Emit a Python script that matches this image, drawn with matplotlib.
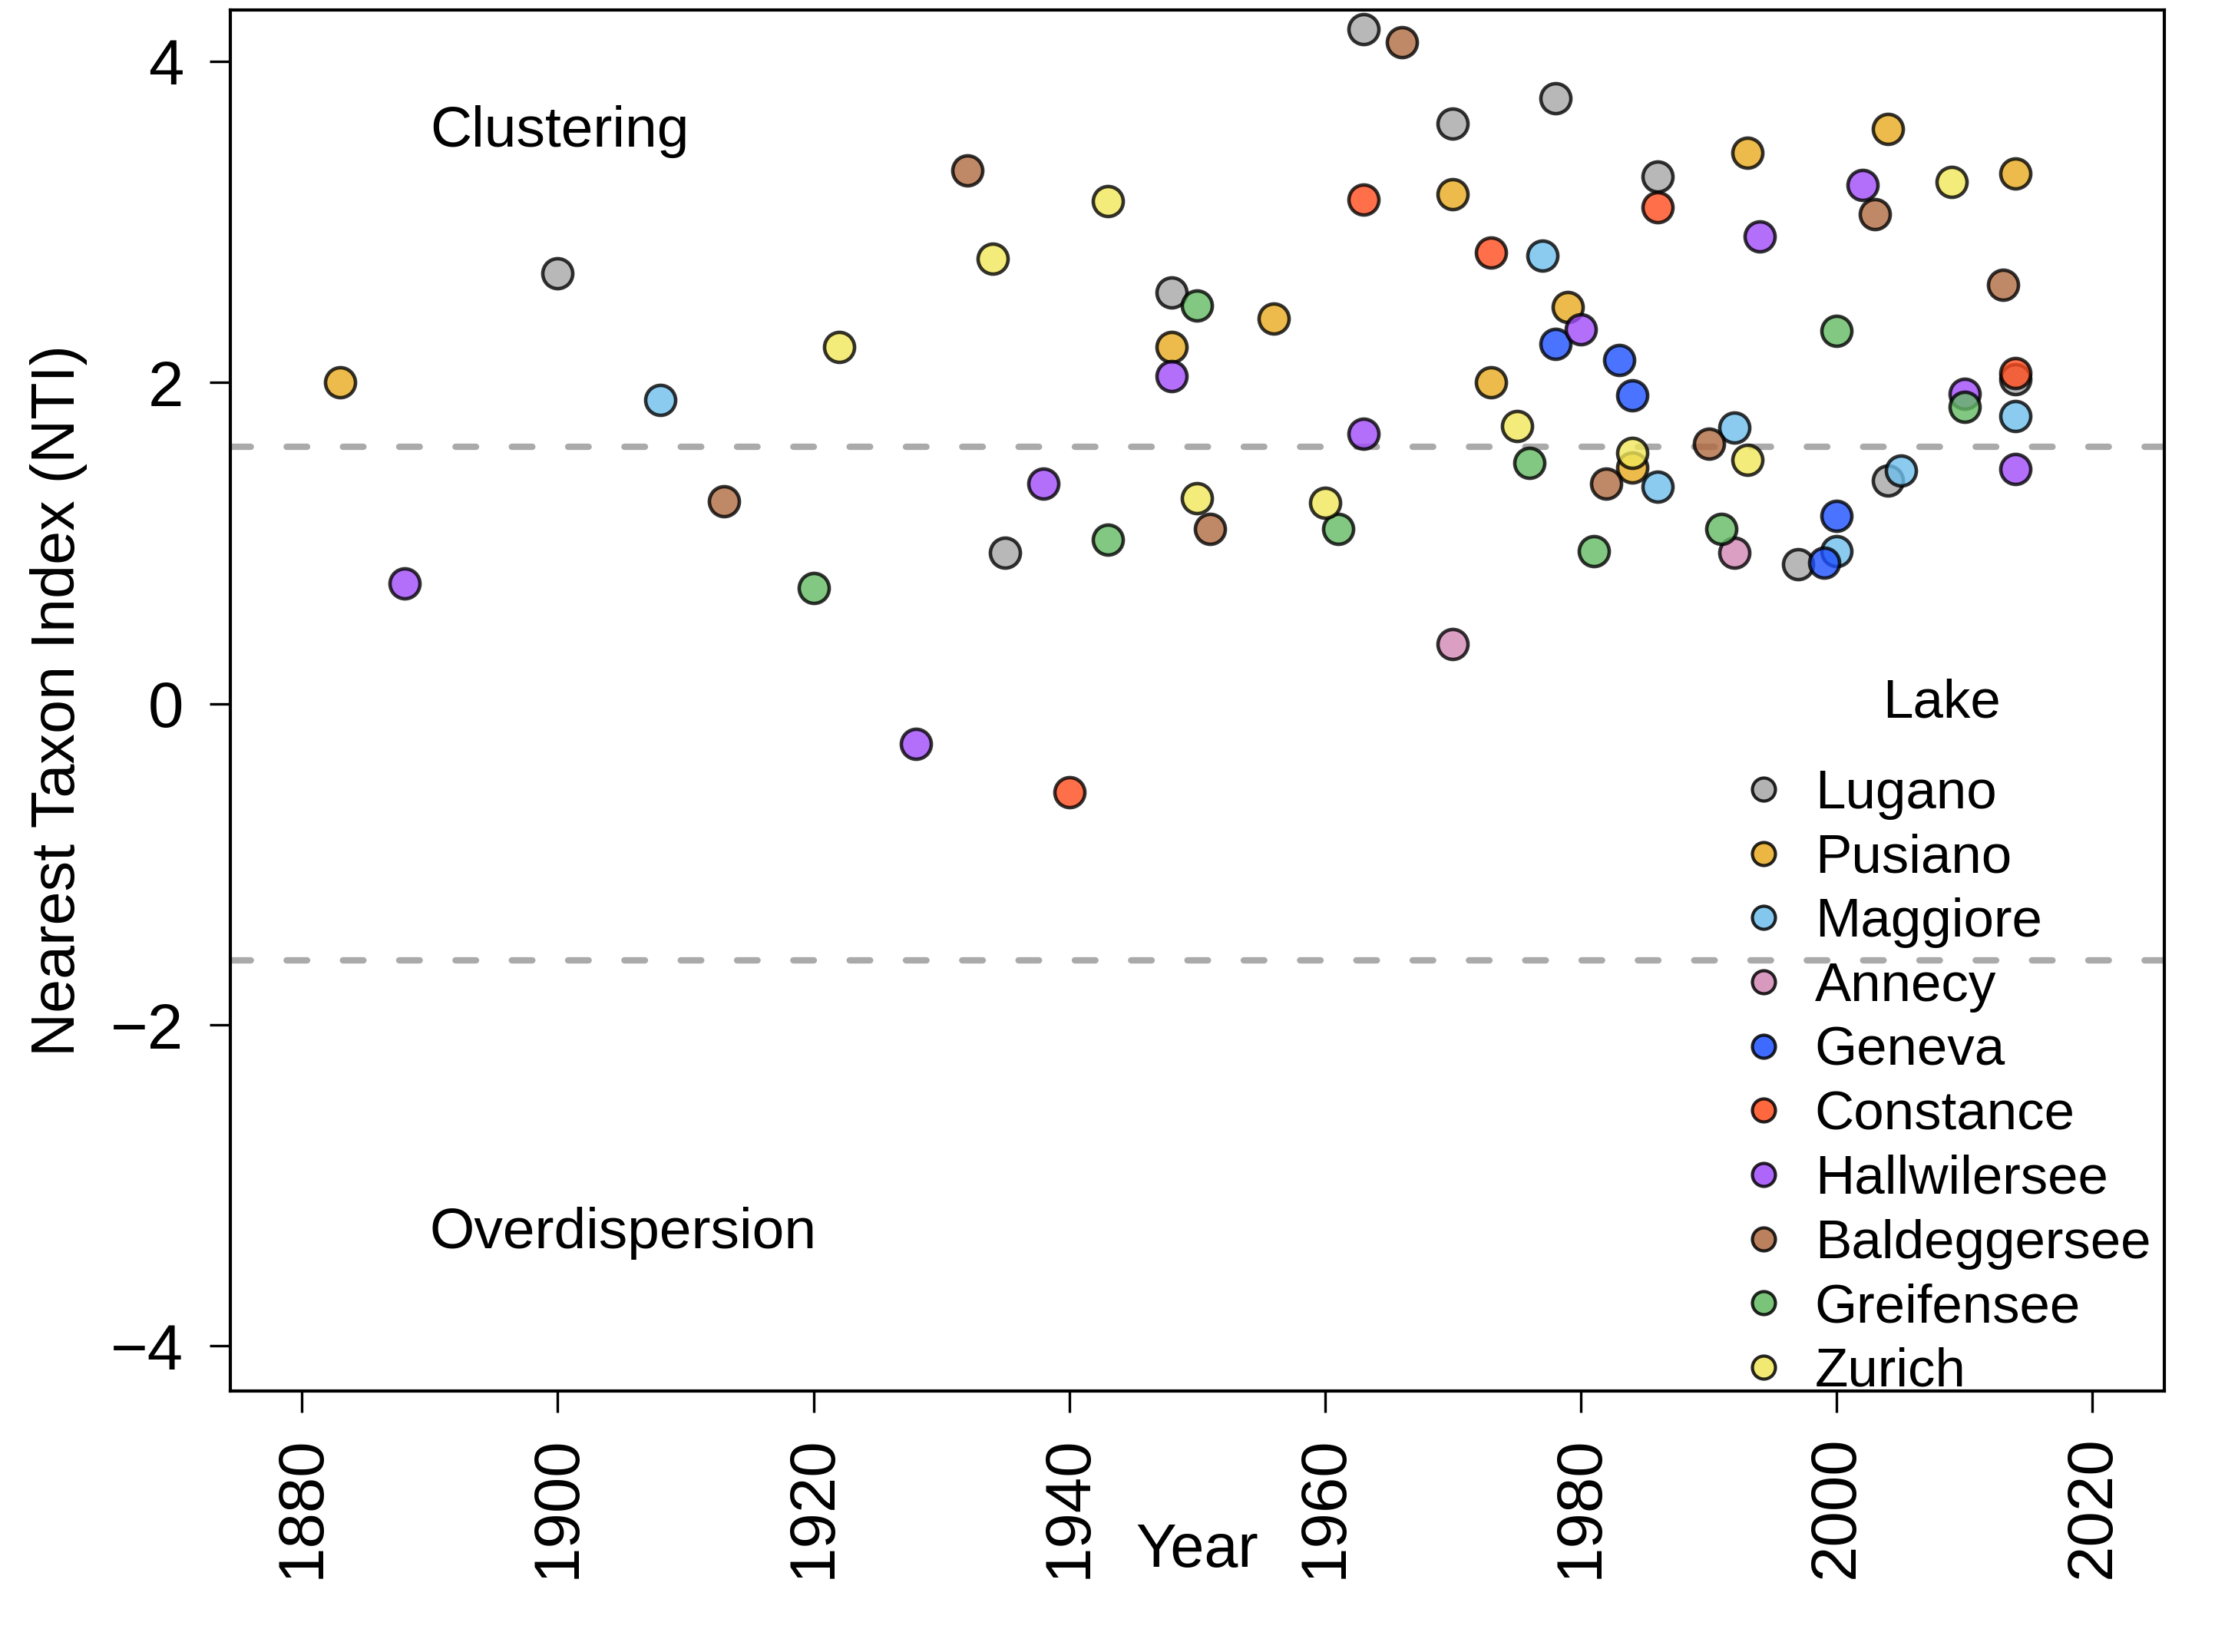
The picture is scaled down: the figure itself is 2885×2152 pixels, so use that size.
import matplotlib
matplotlib.use("Agg")
import matplotlib.pyplot as plt
from matplotlib.lines import Line2D

plt.rcParams['font.family'] = ['Liberation Sans', 'DejaVu Sans']

lakes = ["Lugano", "Pusiano", "Maggiore", "Annecy", "Geneva", "Constance",
         "Hallwilersee", "Baldeggersee", "Greifensee", "Zurich"]

# fill colours (drawn with some transparency, like the original R plot)
lake_colors = ["#a6a6a6", "#e8aa1f", "#6ebeec", "#d187b3", "#1d50ff",
               "#ff4c1d", "#a04af9", "#b06a40", "#63ba63", "#f0e659"]

years = {
    "Lugano":       [1900, 1935, 1948, 1963, 1970, 1978, 1986, 1997, 2004, 2014],
    "Pusiano":      [1883, 1948, 1956, 1970, 1973, 1979, 1984, 1993, 2004, 2014],
    "Maggiore":     [1908, 1977, 1986, 1992, 2000, 2005, 2014],
    "Annecy":       [1970, 1992],
    "Geneva":       [1978, 1983, 1984, 1999, 2000],
    "Constance":    [1940, 1963, 1973, 1986, 2014],
    "Hallwilersee": [1888, 1928, 1938, 1948, 1963, 1980, 1994, 2002, 2010, 2014],
    "Baldeggersee": [1913, 1932, 1951, 1966, 1982, 1990, 2003, 2013],
    "Greifensee":   [1920, 1943, 1950, 1961, 1976, 1981, 1991, 2000, 2010],
    "Zurich":       [1922, 1934, 1943, 1950, 1960, 1975, 1984, 1993, 2009],
}

nti = {
    "Lugano":       [2.68, 0.94, 2.56, 4.20, 3.61, 3.77, 3.28, 0.87, 1.39, 2.02],
    "Pusiano":      [2.00, 2.22, 2.40, 3.17, 2.00, 2.47, 1.47, 3.43, 3.58, 3.30],
    "Maggiore":     [1.89, 2.79, 1.35, 1.72, 0.95, 1.45, 1.79],
    "Annecy":       [0.37, 0.94],
    "Geneva":       [2.24, 2.14, 1.92, 0.88, 1.17],
    "Constance":    [-0.55, 3.14, 2.81, 3.09, 2.06],
    "Hallwilersee": [0.75, -0.25, 1.37, 2.04, 1.68, 2.33, 2.91, 3.23, 1.93, 1.46],
    "Baldeggersee": [1.26, 3.32, 1.09, 4.12, 1.37, 1.62, 3.05, 2.61],
    "Greifensee":   [0.72, 1.02, 2.48, 1.09, 1.50, 0.95, 1.09, 2.32, 1.85],
    "Zurich":       [2.22, 2.77, 3.13, 1.28, 1.25, 1.73, 1.56, 1.52, 3.25],
}

threshold = 1.6
xticks = [1880, 1900, 1920, 1940, 1960, 1980, 2000, 2020]
yticks = [-4, -2, 0, 2, 4]

fig = plt.figure(figsize=(2885 / 300, 2152 / 300), dpi=300)
ax = fig.add_axes([0.104, 0.158, 0.873, 0.836])

for lake, col in zip(lakes, lake_colors):
    ax.scatter(years[lake], nti[lake], s=88, c=col, alpha=0.8,
               edgecolors="black", linewidths=1.1, zorder=3)

for h in (threshold, -threshold):
    ax.axhline(h, color="#aaaaaa", lw=2.0, dashes=(3.2, 5.6),
               dash_capstyle="round", zorder=2)

ax.text(1890, 3.56, "Clustering", fontsize=18, va="center", ha="left")
ax.text(1890, -3.3, "Overdispersion", fontsize=18, va="center", ha="left")

ax.set_xlim(1874.4, 2025.6)
ax.set_ylim(-4.28, 4.32)
ax.set_xticks(xticks)
ax.set_yticks(yticks)
ax.set_xticklabels([str(t) for t in xticks], rotation=90)
ax.set_yticklabels(["\u2212" + str(-t) if t < 0 else str(t) for t in yticks])
ax.tick_params(labelsize=20, length=6.6, width=0.8)
ax.tick_params(axis="y", pad=8)
ax.tick_params(axis="x", pad=7.5)

ax.set_xlabel("Year", fontsize=19)
ax.xaxis.set_label_coords(0.5, -0.095)
ax.set_ylabel("Nearest Taxon Index (NTI)", fontsize=19)
ax.yaxis.set_label_coords(-0.074, 0.5)

for sp in ax.spines.values():
    sp.set_linewidth(1.0)

handles = [Line2D([], [], marker="o", ls="", markersize=7.2, markerfacecolor=c,
                  markeredgecolor="black", markeredgewidth=1.0, alpha=0.85)
           for c in lake_colors]
ax.legend(handles, lakes, loc="lower left", bbox_to_anchor=(0.779, -0.005),
          frameon=False, fontsize=17, labelspacing=0.25, handletextpad=0.435,
          handlelength=1.0, borderpad=0, borderaxespad=0)
ax.text(0.885, 0.498, "Lake", transform=ax.transAxes, fontsize=17,
        ha="center", va="center")

fig.savefig("out.png", dpi=300)
